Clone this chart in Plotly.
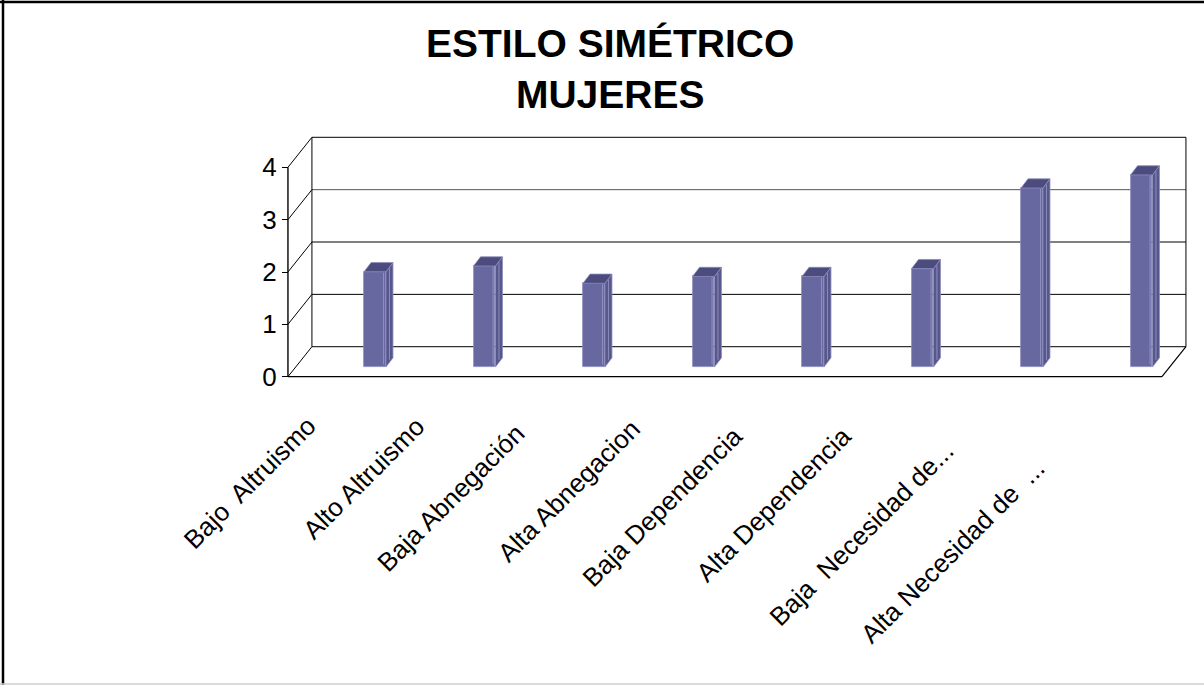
import plotly.graph_objects as go

# ---- data -------------------------------------------------------------
categories = [
    "Bajo\u00a0 Altruismo",
    "Alto Altruismo",
    "Baja Abnegación",
    "Alta Abnegacion",
    "Baja Dependencia",
    "Alta Dependencia",
    "Baja\u00a0 Necesidad de...",
    "Alta Necesidad de\u00a0 ...",
]
values = [1.82, 1.93, 1.60, 1.73, 1.73, 1.88, 3.42, 3.67]
y_ticks = [0, 1, 2, 3, 4]

# ---- geometry of the pseudo-3D box (axis units) -----------------------
W, H = 1204, 685
X_RANGE = [-3.4247, 7.5708]
Y_RANGE = [-5.889, 7.196]
DX, DY = 0.219, 0.573            # oblique offset front -> back wall
FLOOR_L, FLOOR_R = -0.795, 7.187  # front edge of the floor
BAR_BASE = 0.185                  # bars stand a bit behind the front edge
BAR_W = 0.2
BAR_DX, BAR_DY = 0.064, 0.175     # bar thickness in depth
Y_MAX = max(y_ticks)

FACE = "#6868a0"
SIDE = "#57578b"
CAP = "#4b4b7d"
EDGE = "#8a8abd"
FONT = "Arial, Liberation Sans, sans-serif"

x_idx = list(range(len(categories)))

fig = go.Figure()

# front faces of the bars
fig.add_trace(go.Bar(
    x=x_idx, y=values, base=BAR_BASE, width=BAR_W,
    marker=dict(color=FACE, line=dict(color=EDGE, width=0.8)),
    hoverinfo="skip", showlegend=False,
))

# side faces and caps of the bars
side_x, side_y, cap_x, cap_y, hl_x, hl_y = [], [], [], [], [], []
for i, v in zip(x_idx, values):
    xl, xr = i - BAR_W / 2, i + BAR_W / 2
    top = BAR_BASE + v
    side_x += [xr, xr + BAR_DX, xr + BAR_DX, xr, xr, None]
    side_y += [BAR_BASE, BAR_BASE + BAR_DY, top + BAR_DY, top, BAR_BASE, None]
    cap_x += [xl, xr, xr + BAR_DX, xl + BAR_DX, xl, None]
    cap_y += [top, top, top + BAR_DY, top + BAR_DY, top, None]
    hl_x += [xr - 0.022, xr - 0.022, None, xr + BAR_DX * 0.5, xr + BAR_DX * 0.5, None]
    hl_y += [BAR_BASE + 0.05, top - 0.02, None,
             BAR_BASE + BAR_DY * 0.5 + 0.05, top + BAR_DY * 0.5 - 0.02, None]

fig.add_trace(go.Scatter(
    x=side_x, y=side_y, mode="lines", fill="toself", fillcolor=SIDE,
    line=dict(color=EDGE, width=0.8), hoverinfo="skip", showlegend=False,
))
fig.add_trace(go.Scatter(
    x=cap_x, y=cap_y, mode="lines", fill="toself", fillcolor=CAP,
    line=dict(color=EDGE, width=0.8), hoverinfo="skip", showlegend=False,
))
fig.add_trace(go.Scatter(
    x=hl_x, y=hl_y, mode="lines",
    line=dict(color="#9a9ac8", width=0.8), hoverinfo="skip", showlegend=False,
))

# ---- walls, floor and gridlines ---------------------------------------
shapes = []


def seg(x0, y0, x1, y1, color="black", width=1.0):
    shapes.append(dict(type="line", xref="x", yref="y", x0=x0, y0=y0,
                       x1=x1, y1=y1, layer="below",
                       line=dict(color=color, width=width)))


bl, br = FLOOR_L + DX, FLOOR_R + DX
# back wall outline and horizontal gridlines
for t in y_ticks:
    seg(bl, t + DY, br, t + DY, color="#000000" if t != 3 else "#555555")
seg(bl, DY, bl, Y_MAX + DY)
seg(br, DY, br, Y_MAX + DY)
# side wall diagonals at each tick
for t in y_ticks:
    seg(FLOOR_L, t, bl, t + DY, width=1.0)
# front value axis
seg(FLOOR_L, 0, FLOOR_L, Y_MAX, width=1.4)
# floor
seg(FLOOR_L, 0, FLOOR_R, 0, width=1.2)
seg(FLOOR_R, 0, br, DY, width=1.2)

# outer chart frame
shapes.append(dict(type="line", xref="paper", yref="paper", x0=3 / W, x1=3 / W,
                   y0=0, y1=1, line=dict(color="black", width=2.5)))
shapes.append(dict(type="line", xref="paper", yref="paper", x0=0, x1=1,
                   y0=1 - 2 / H, y1=1 - 2 / H, line=dict(color="black", width=2.5)))
shapes.append(dict(type="line", xref="paper", yref="paper", x0=0, x1=1,
                   y0=1 / H, y1=1 / H, line=dict(color="#cfcfcf", width=1.5)))

# ---- category labels ---------------------------------------------------
LABEL_Y = -0.83
label_shift = [(-51, 12), (-51, 12), (-61, 5), (-55, 9),
               (-62, 2), (-62, 2), (-70, -13), (-88, -30)]
annotations = []
for i, (txt, (sx, sy)) in enumerate(zip(categories, label_shift)):
    annotations.append(dict(
        x=i, y=LABEL_Y, xref="x", yref="y", text=txt, showarrow=False,
        textangle=-45, xanchor="right", yanchor="top", xshift=sx, yshift=sy,
        font=dict(family=FONT, size=26, color="black"),
    ))

# title
annotations.append(dict(
    x=610 / W, y=1 - 20 / H, xref="paper", yref="paper",
    text="<b>ESTILO SIMÉTRICO<br>MUJERES</b>", showarrow=False,
    xanchor="center", yanchor="top", align="center",
    font=dict(family=FONT, size=39, color="black"),
))

y_axis_pos = (FLOOR_L - X_RANGE[0]) / (X_RANGE[1] - X_RANGE[0])

fig.update_layout(
    width=W, height=H,
    margin=dict(l=0, r=0, t=0, b=0),
    paper_bgcolor="white", plot_bgcolor="white",
    showlegend=False,
    bargap=0,
    xaxis=dict(range=X_RANGE, visible=False, fixedrange=True),
    yaxis=dict(
        range=Y_RANGE, anchor="free", position=y_axis_pos,
        tickvals=y_ticks, ticktext=[str(t) for t in y_ticks],
        ticks="outside", ticklen=6, tickcolor="black", tickwidth=1,
        showgrid=False, zeroline=False, showline=False,
        tickfont=dict(family=FONT, size=26, color="black"),
        fixedrange=True,
    ),
    shapes=shapes,
    annotations=annotations,
)

fig.write_html("out.html")
